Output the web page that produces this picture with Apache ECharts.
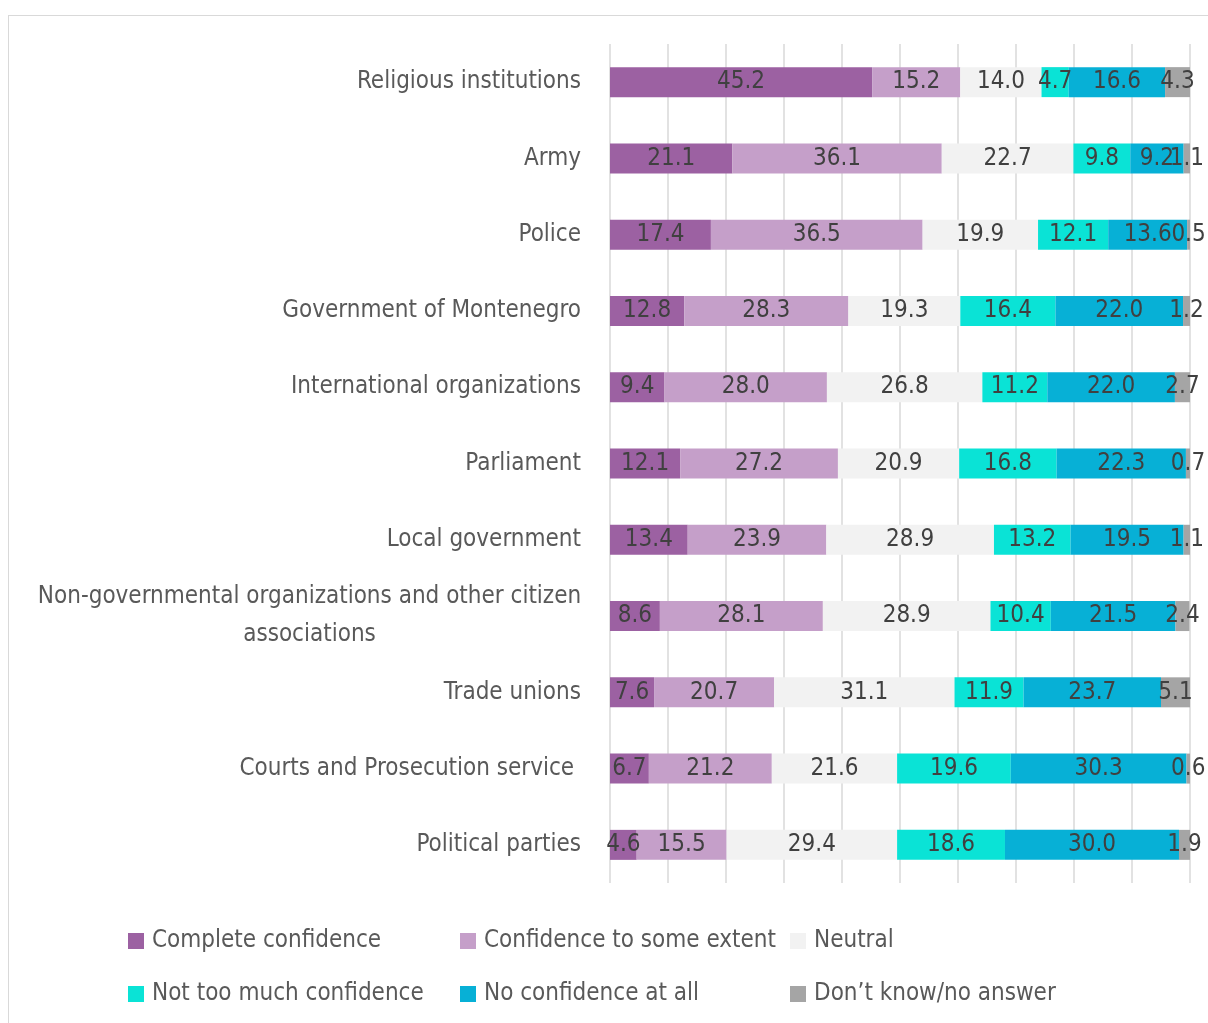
<!DOCTYPE html>
<html>
<head>
<meta charset="utf-8">
<script src="https://cdn.jsdelivr.net/npm/echarts@6/dist/echarts.min.js"></script>
<style>
  html, body { margin: 0; padding: 0; background: #fff; overflow: hidden; }
  #frame { position: absolute; left: 8px; top: 15px; width: 1400px; height: 1200px; border: 1.5px solid #d9d9d9; }
  #chart { position: absolute; left: 0; top: 0; width: 1208px; height: 1023px; }
</style>
</head>
<body>
<div id="frame"></div>
<div id="chart"></div>
<script>
// 类别（从上到下）
var categories = [
  'Religious institutions',
  'Army',
  'Police',
  'Government of Montenegro',
  'International organizations',
  'Parliament',
  'Local government',
  'Non-governmental organizations and other citizen\nassociations',
  'Trade unions',
  'Courts and Prosecution service ',
  'Political parties'
];

var seriesNames = [
  'Complete confidence',
  'Confidence to some extent',
  'Neutral',
  'Not too much confidence',
  'No confidence at all',
  'Don\u2019t know/no answer'
];

var completeConfidence = [45.2, 21.1, 17.4, 12.8, 9.4, 12.1, 13.4, 8.6, 7.6, 6.7, 4.6];
var someConfidence     = [15.2, 36.1, 36.5, 28.3, 28.0, 27.2, 23.9, 28.1, 20.7, 21.2, 15.5];
var neutral            = [14.0, 22.7, 19.9, 19.3, 26.8, 20.9, 28.9, 28.9, 31.1, 21.6, 29.4];
var notTooMuch         = [4.7, 9.8, 12.1, 16.4, 11.2, 16.8, 13.2, 10.4, 11.9, 19.6, 18.6];
var noConfidence       = [16.6, 9.2, 13.6, 22.0, 22.0, 22.3, 19.5, 21.5, 23.7, 30.3, 30.0];
var dontKnow           = [4.3, 1.1, 0.5, 1.2, 2.7, 0.7, 1.1, 2.4, 5.1, 0.6, 1.9];

var values = [completeConfidence, someConfidence, neutral, notTooMuch, noConfidence, dontKnow];
var colors = ['#9c61a2', '#c59fc9', '#f2f2f2', '#0ae3d6', '#07b0d6', '#a5a5a5'];

var fontFamily = "'DejaVu Sans Condensed', 'Liberation Sans Narrow', sans-serif";

var series = seriesNames.map(function (name, i) {
  return {
    name: name,
    type: 'bar',
    stack: 'total',
    barWidth: 30,
    data: values[i],
    itemStyle: { color: colors[i] },
    label: {
      show: true,
      position: 'inside',
      color: '#404040',
      fontSize: 24,
      fontFamily: fontFamily,
      formatter: function (p) { return p.value.toFixed(1); }
    }
  };
});

// 图例：两行三列
var legendLeft = [128, 460, 790, 128, 460, 790];
var legendTop = [929, 929, 929, 982, 982, 982];
var legends = seriesNames.map(function (name, i) {
  return {
    data: [name],
    left: legendLeft[i],
    top: legendTop[i],
    padding: 0,
    icon: 'rect',
    itemWidth: 16,
    itemHeight: 16,
    itemGap: 0,
    textStyle: { color: '#595959', fontSize: 24, fontFamily: fontFamily, padding: [0, 0, 0, 3] }
  };
});

var chart = echarts.init(document.getElementById('chart'));
chart.setOption({
  animation: false,
  legend: legends,
  grid: { left: 610, right: 18, top: 44, height: 839, containLabel: false },
  xAxis: {
    type: 'value',
    min: 0,
    max: 100,
    interval: 10,
    axisLabel: { show: false },
    axisLine: { show: false },
    axisTick: { show: false },
    splitLine: { lineStyle: { color: '#d9d9d9', width: 1.5 } }
  },
  yAxis: {
    type: 'category',
    inverse: true,
    data: categories,
    axisLine: { show: false },
    axisTick: { show: false },
    axisLabel: {
      margin: 29,
      color: '#595959',
      fontSize: 24,
      fontFamily: fontFamily,
      lineHeight: 38,
      formatter: function (v) {
        if (v.indexOf('\n') >= 0) return '{c|' + v.replace('\n', '}\n{c|') + '}';
        return v;
      },
      rich: {
        c: { width: 543, align: 'center', fontSize: 24, fontFamily: fontFamily, color: '#595959', lineHeight: 38 }
      }
    }
  },
  series: series
});
</script>
</body>
</html>
